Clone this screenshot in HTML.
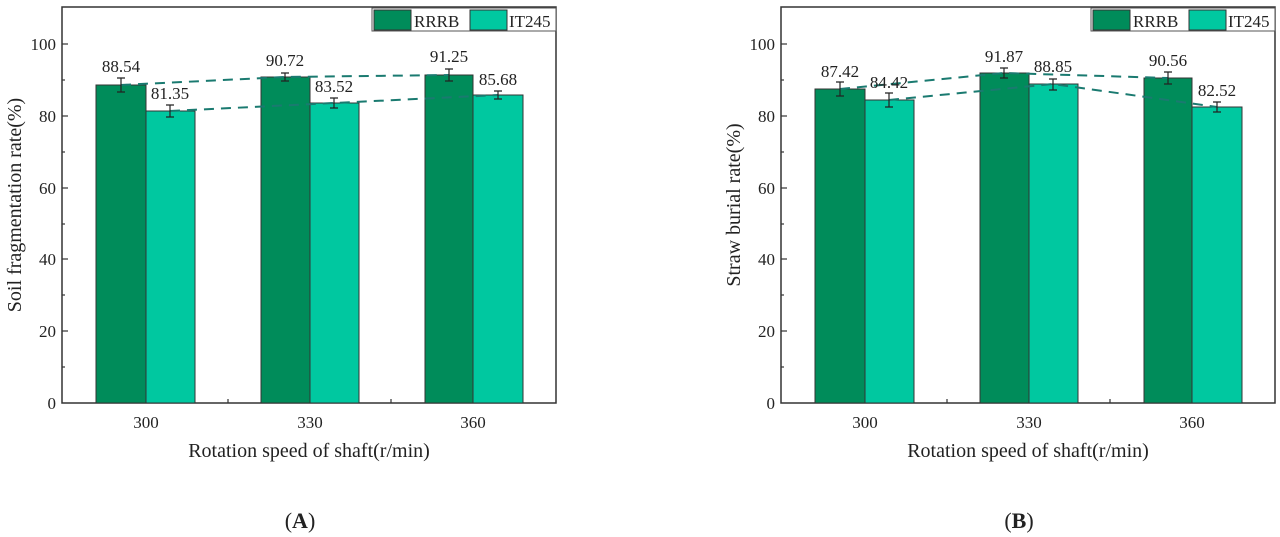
<!DOCTYPE html>
<html><head><meta charset="utf-8"><style>
body{margin:0;background:#fff}
svg{display:block;font-family:"Liberation Serif",serif}
</style></head><body>
<svg width="1280" height="537" viewBox="0 0 1280 537" xmlns="http://www.w3.org/2000/svg">
<defs>
<g id="axes">
  <rect x="62" y="7" width="494" height="396" fill="none" stroke="#333" stroke-width="1.5"/>
  <g stroke="#333" stroke-width="1.2">
    <line x1="62" y1="44" x2="68" y2="44"/><line x1="62" y1="116" x2="68" y2="116"/>
    <line x1="62" y1="188" x2="68" y2="188"/><line x1="62" y1="259" x2="68" y2="259"/>
    <line x1="62" y1="331" x2="68" y2="331"/>
    <line x1="62" y1="80" x2="65" y2="80"/><line x1="62" y1="152" x2="65" y2="152"/>
    <line x1="62" y1="224" x2="65" y2="224"/><line x1="62" y1="295" x2="65" y2="295"/>
    <line x1="62" y1="367" x2="65" y2="367"/>
    <line x1="146" y1="403" x2="146" y2="397"/><line x1="310" y1="403" x2="310" y2="397"/>
    <line x1="473" y1="403" x2="473" y2="397"/>
    <line x1="228" y1="403" x2="228" y2="399"/><line x1="391" y1="403" x2="391" y2="399"/>
  </g>
  <g font-size="17" fill="#222" text-anchor="end">
    <text x="56" y="50">100</text><text x="56" y="122">80</text><text x="56" y="194">60</text>
    <text x="56" y="265">40</text><text x="56" y="337">20</text><text x="56" y="409">0</text>
  </g>
  <g font-size="17" fill="#222" text-anchor="middle">
    <text x="146" y="428">300</text><text x="310" y="428">330</text><text x="473" y="428">360</text>
  </g>
  <text x="309" y="457" font-size="20" text-anchor="middle" fill="#222">Rotation speed of shaft(r/min)</text>
  <rect x="372" y="8" width="184" height="23" fill="#fff" stroke="#555"/>
  <rect x="374" y="10" width="37" height="20" fill="#008c5a" stroke="#333"/>
  <text x="414" y="27" font-size="17" fill="#222">RRRB</text>
  <rect x="470" y="10" width="37" height="20" fill="#00c8a0" stroke="#333"/>
  <text x="509" y="27" font-size="17" fill="#222">IT245</text>
</g>
</defs>

<g transform="translate(0,0)">
<use href="#axes"/>
<text transform="translate(21,205) rotate(-90)" font-size="20" text-anchor="middle" fill="#222">Soil fragmentation rate(%)</text>
<g stroke="#333" stroke-width="1">
  <rect x="96" y="85" width="50" height="318" fill="#008c5a"/>
  <rect x="146" y="111" width="49" height="292" fill="#00c8a0"/>
  <rect x="261" y="77" width="49" height="326" fill="#008c5a"/>
  <rect x="310" y="103" width="49" height="300" fill="#00c8a0"/>
  <rect x="425" y="75" width="48" height="328" fill="#008c5a"/>
  <rect x="473" y="95" width="50" height="308" fill="#00c8a0"/>
</g>
<g stroke="#1a7a70" stroke-width="2" stroke-dasharray="10,7" fill="none">
  <polyline points="121,85 285,77 449,75"/>
  <polyline points="170,111 334,103 498,95"/>
</g>
<g stroke="#222" stroke-width="1.2">
  <path d="M121,78V92M117,78h8M117,92h8"/>
  <path d="M170,105V117M166,105h8M166,117h8"/>
  <path d="M285,73V81M281,73h8M281,81h8"/>
  <path d="M334,98V108M330,98h8M330,108h8"/>
  <path d="M449,69V81M445,69h8M445,81h8"/>
  <path d="M498,91V99M494,91h8M494,99h8"/>
</g>
<g font-size="17" fill="#222" text-anchor="middle">
  <text x="121" y="72">88.54</text><text x="170" y="99">81.35</text>
  <text x="285" y="66">90.72</text><text x="334" y="92">83.52</text>
  <text x="449" y="62">91.25</text><text x="498" y="85">85.68</text>
</g>
<text x="300" y="528" font-size="22" text-anchor="middle" fill="#222">(<tspan font-weight="bold">A</tspan>)</text>
</g>

<g transform="translate(719,0)">
<use href="#axes"/>
<text transform="translate(21,205) rotate(-90)" font-size="20" text-anchor="middle" fill="#222">Straw burial rate(%)</text>
<g stroke="#333" stroke-width="1">
  <rect x="96" y="89" width="50" height="314" fill="#008c5a"/>
  <rect x="146" y="100" width="49" height="303" fill="#00c8a0"/>
  <rect x="261" y="73" width="49" height="330" fill="#008c5a"/>
  <rect x="310" y="84" width="49" height="319" fill="#00c8a0"/>
  <rect x="425" y="78" width="48" height="325" fill="#008c5a"/>
  <rect x="473" y="107" width="50" height="296" fill="#00c8a0"/>
</g>
<g stroke="#1a7a70" stroke-width="2" stroke-dasharray="10,7" fill="none">
  <polyline points="121,89 285,73 449,78"/>
  <polyline points="170,100 334,84 498,107"/>
</g>
<g stroke="#222" stroke-width="1.2">
  <path d="M121,82V96M117,82h8M117,96h8"/>
  <path d="M170,93V107M166,93h8M166,107h8"/>
  <path d="M285,68V78M281,68h8M281,78h8"/>
  <path d="M334,79V90M330,79h8M330,90h8"/>
  <path d="M449,72V84M445,72h8M445,84h8"/>
  <path d="M498,102V112M494,102h8M494,112h8"/>
</g>
<g font-size="17" fill="#222" text-anchor="middle">
  <text x="121" y="77">87.42</text><text x="170" y="88">84.42</text>
  <text x="285" y="62">91.87</text><text x="334" y="72">88.85</text>
  <text x="449" y="66">90.56</text><text x="498" y="96">82.52</text>
</g>
<text x="300" y="528" font-size="22" text-anchor="middle" fill="#222">(<tspan font-weight="bold">B</tspan>)</text>
</g>
</svg>
</body></html>
